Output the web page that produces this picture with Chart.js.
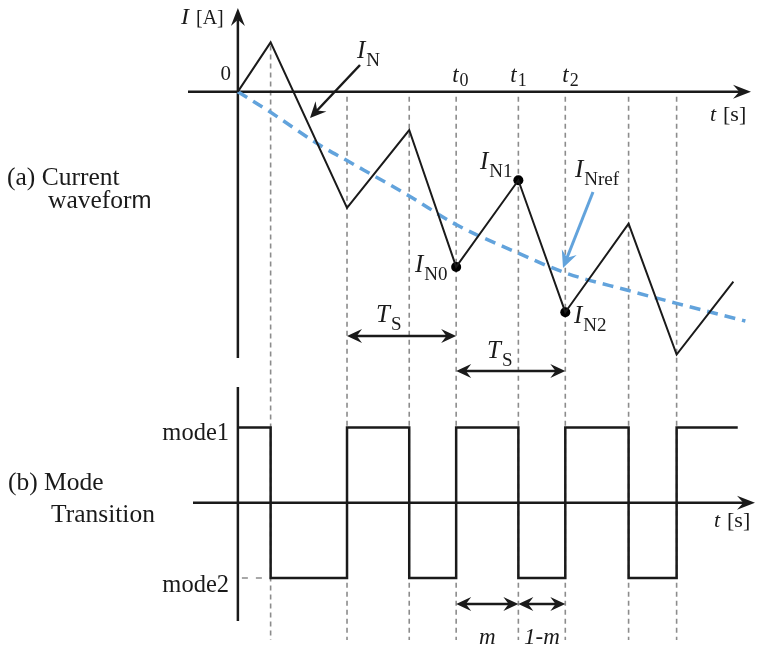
<!DOCTYPE html>
<html>
<head>
<meta charset="utf-8">
<script src="https://cdn.jsdelivr.net/npm/chart.js@4.4.1/dist/chart.umd.min.js"></script>
<style>
  html, body { margin: 0; padding: 0; background: #fff; }
  canvas { display: block; }
</style>
</head>
<body>
<canvas id="chart" width="757" height="651"></canvas>
<script>
// time in us, Ts = 100
var switchTimes = [0, 30, 100, 157, 200, 257, 300, 358, 402, 454];
var currentValues = [0, 1.0, -2.36, -0.78, -3.56, -1.80, -4.48, -2.68, -5.34, -3.86];
var refTimes = [0, 30, 76, 100, 157, 200, 257, 300, 358, 402, 465];
var refValues = [0, -0.42, -1.10, -1.40, -2.12, -2.70, -3.28, -3.68, -4.04, -4.30, -4.66];
var modeTimes = [0, 30, 100, 157, 200, 257, 300, 358, 402, 458];
var modeValues = [1, -1, 1, -1, 1, -1, 1, -1, 1, 1];
var markedIdx = [4, 5, 6];   // I_N0, I_N1, I_N2
var gridTimes = [30, 100, 157, 200, 257, 300, 358, 402];

var SERIF = '"Liberation Serif", "DejaVu Serif", serif';
var INK = '#1a1a1a';
var BLUE = '#62a3dc';

function pts(xs, ys) {
    return xs.map(function (x, i) { return {x: x, y: ys[i]}; });
}

function head(ctx, x, y, ang, len, w) {
    ctx.save();
    ctx.translate(x, y);
    ctx.rotate(ang);
    ctx.beginPath();
    ctx.moveTo(0, 0);
    ctx.lineTo(-len, -w);
    ctx.lineTo(-len * 0.65, 0);
    ctx.lineTo(-len, w);
    ctx.closePath();
    ctx.fill();
    ctx.restore();
}

function arrow(ctx, x1, y1, x2, y2, width, len, w) {
    var ang = Math.atan2(y2 - y1, x2 - x1);
    ctx.lineWidth = width;
    ctx.beginPath();
    ctx.moveTo(x1, y1);
    ctx.lineTo(x2 - Math.cos(ang) * len * 0.6, y2 - Math.sin(ang) * len * 0.6);
    ctx.stroke();
    head(ctx, x2, y2, ang, len, w);
}

function dblArrow(ctx, x1, x2, y) {
    ctx.lineWidth = 2.5;
    ctx.beginPath();
    ctx.moveTo(x1 + 8, y);
    ctx.lineTo(x2 - 8, y);
    ctx.stroke();
    head(ctx, x2, y, 0, 15, 7);
    head(ctx, x1, y, Math.PI, 15, 7);
}

function txt(ctx, s, x, y, size, italic, align, family) {
    ctx.font = (italic ? 'italic ' : '') + size + 'px ' + (family || SERIF);
    ctx.textAlign = align || 'left';
    ctx.fillText(s, x, y);
    return ctx.measureText(s).width;
}

function sym(ctx, main, sub, x, y, size) {
    var w = txt(ctx, main, x, y, size, true);
    txt(ctx, sub, x + w + 1, y + size * 0.3, size * 0.76, false);
}

var diagram = {
    id: 'diagram',
    beforeDraw(chart) {
        var ctx = chart.ctx;
        ctx.save();
        ctx.fillStyle = '#fff';
        ctx.fillRect(0, 0, chart.width, chart.height);
        ctx.restore();
    },
    beforeDatasetsDraw(chart) {
        var ctx = chart.ctx,
            X = chart.scales.x, Y = chart.scales.y, M = chart.scales.m,
            x0 = X.getPixelForValue(0),
            y0 = Y.getPixelForValue(0),
            m0 = M.getPixelForValue(0);

        ctx.save();
        // dashed switching instants
        ctx.strokeStyle = '#8c8c8c';
        ctx.lineWidth = 1.6;
        ctx.setLineDash([5, 4]);
        gridTimes.forEach(function (t) {
            var x = X.getPixelForValue(t),
                top = t === 30 ? Y.getPixelForValue(currentValues[1]) + 3 : y0 + 5;
            ctx.beginPath();
            ctx.moveTo(x, top);
            ctx.lineTo(x, 640);
            ctx.stroke();
        });
        // mode2 leader
        ctx.setLineDash([6, 8]);
        ctx.beginPath();
        ctx.moveTo(x0 + 4, M.getPixelForValue(-1));
        ctx.lineTo(X.getPixelForValue(30), M.getPixelForValue(-1));
        ctx.stroke();
        ctx.setLineDash([]);

        // axes
        ctx.strokeStyle = INK;
        ctx.fillStyle = INK;
        ctx.lineWidth = 2.5;
        ctx.beginPath();
        ctx.moveTo(188, y0);
        ctx.lineTo(740, y0);
        ctx.stroke();
        head(ctx, 751, y0, 0, 18, 7);
        ctx.beginPath();
        ctx.moveTo(x0, 358);
        ctx.lineTo(x0, 20);
        ctx.stroke();
        head(ctx, x0, 8, -Math.PI / 2, 18, 7);
        ctx.beginPath();
        ctx.moveTo(x0, 387);
        ctx.lineTo(x0, 621);
        ctx.stroke();
        ctx.beginPath();
        ctx.moveTo(193, m0);
        ctx.lineTo(744, m0);
        ctx.stroke();
        head(ctx, 755, m0, 0, 18, 7);
        ctx.restore();
    },
    afterDatasetsDraw(chart) {
        var ctx = chart.ctx,
            X = chart.scales.x;
        ctx.save();
        ctx.fillStyle = INK;
        ctx.strokeStyle = INK;
        ctx.textBaseline = 'alphabetic';

        // axis labels
        txt(ctx, 'I', 181, 24, 24, true);
        txt(ctx, '[A]', 196, 24, 20, false);
        txt(ctx, '0', 231, 80, 21, false, 'right');
        txt(ctx, 't', 710, 121, 22, true);
        txt(ctx, '[s]', 723, 121, 22, false);
        txt(ctx, 't', 714, 527, 22, true);
        txt(ctx, '[s]', 727, 527, 22, false);

        // time instants
        [[200, '0', -4], [257, '1', -8], [300, '2', -3]].forEach(function (d) {
            var x = X.getPixelForValue(d[0]) + d[2];
            var w = txt(ctx, 't', x, 82, 23, true);
            txt(ctx, d[1], x + w + 1, 86, 18, false);
        });

        // current labels
        sym(ctx, 'I', 'N', 357, 58, 25);
        sym(ctx, 'I', 'N0', 415, 272, 25);
        sym(ctx, 'I', 'N1', 480, 169, 25);
        sym(ctx, 'I', 'N2', 574, 323, 25);
        sym(ctx, 'I', 'Nref', 575, 177, 25);

        // I_N arrow
        arrow(ctx, 360, 65, 310, 118, 2.5, 16, 7.5);
        // I_Nref arrow
        ctx.strokeStyle = BLUE;
        ctx.fillStyle = BLUE;
        arrow(ctx, 593, 192, 563, 268, 3, 17, 8);
        ctx.strokeStyle = INK;
        ctx.fillStyle = INK;

        // Ts arrows
        dblArrow(ctx, X.getPixelForValue(100), X.getPixelForValue(200), 336);
        sym(ctx, 'T', 'S', 376, 322, 25);
        dblArrow(ctx, X.getPixelForValue(200), X.getPixelForValue(300), 371);
        sym(ctx, 'T', 'S', 487, 358, 25);

        // m / 1-m arrows
        dblArrow(ctx, X.getPixelForValue(200), X.getPixelForValue(257), 604);
        dblArrow(ctx, X.getPixelForValue(257), X.getPixelForValue(300), 604);
        txt(ctx, 'm', 479, 644, 23, true);
        txt(ctx, '1-m', 524, 644, 23, true);

        // mode levels
        txt(ctx, 'mode1', 229, 440, 24.5, false, 'right');
        txt(ctx, 'mode2', 229, 592, 24.5, false, 'right');

        // panel captions
        txt(ctx, '(a) Current', 7, 185, 25.5, false);
        var w = txt(ctx, 'wavefor', 48, 208, 25.5, false);
        txt(ctx, 'm', 48 + w, 208, 24, false, 'left', '"Liberation Sans", "DejaVu Sans", sans-serif');
        txt(ctx, '(b) Mode', 8, 490, 25.5, false);
        txt(ctx, 'Transition', 51, 522, 25.5, false);
        ctx.restore();
    }
};

new Chart(document.getElementById('chart'), {
    type: 'line',
    data: {
        datasets: [{
            label: 'I_N',
            data: pts(switchTimes, currentValues),
            borderColor: INK,
            borderWidth: 2,
            pointRadius: 0,
            tension: 0,
            yAxisID: 'y'
        }, {
            label: 'I_Nref',
            data: pts(refTimes, refValues),
            borderColor: BLUE,
            borderWidth: 3.5,
            borderDash: [11, 7],
            pointRadius: 0,
            cubicInterpolationMode: 'monotone',
            yAxisID: 'y'
        }, {
            label: 'samples',
            data: markedIdx.map(function (i) { return {x: switchTimes[i], y: currentValues[i]}; }),
            showLine: false,
            pointRadius: 5,
            pointBackgroundColor: '#000',
            pointBorderWidth: 0,
            yAxisID: 'y'
        }, {
            label: 'mode',
            data: pts(modeTimes, modeValues),
            stepped: 'before',
            borderColor: INK,
            borderWidth: 2.5,
            pointRadius: 0,
            yAxisID: 'm'
        }]
    },
    options: {
        responsive: false,
        animation: false,
        layout: { padding: 0 },
        plugins: { legend: { display: false }, tooltip: { enabled: false } },
        scales: {
            x: { type: 'linear', display: false, min: -236 / 1.106, max: 521 / 1.106 },
            y: { type: 'linear', display: false, min: (88 - 651) / 50, max: 88 / 50 },
            m: { type: 'linear', display: false, min: -145.5 / 76.5, max: 505.5 / 76.5 }
        }
    },
    plugins: [diagram]
});
</script>
</body>
</html>
